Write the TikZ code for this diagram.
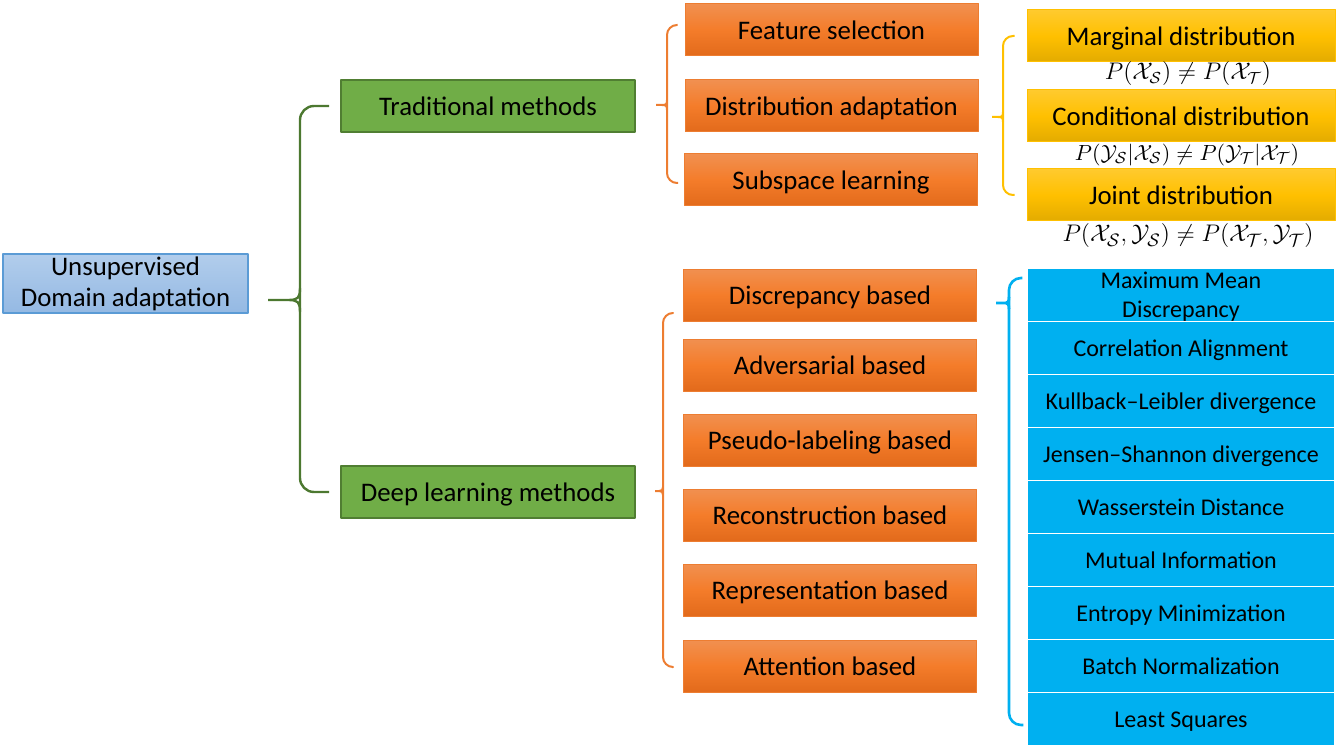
\documentclass[tikz,border=0pt]{standalone}
\usepackage[no-math]{fontspec}
\setmainfont{Carlito}
\usetikzlibrary{calc}
\definecolor{rootedge}{HTML}{5B9BD5}
\definecolor{roottop}{HTML}{B2CDEC}
\definecolor{rootbot}{HTML}{94B9E3}
\definecolor{gfill}{HTML}{70AD47}
\definecolor{gedge}{HTML}{507E32}
\definecolor{oedge}{HTML}{ED7D31}
\definecolor{otop}{HTML}{F19050}
\definecolor{omid}{HTML}{F47C2A}
\definecolor{obot}{HTML}{E26A1B}
\definecolor{ytop}{HTML}{FFCA2E}
\definecolor{ymid}{HTML}{FFC000}
\definecolor{ybot}{HTML}{E3AB00}
\definecolor{bfill}{HTML}{00B0F0}
\begin{document}
\begin{tikzpicture}[x=0.5pt,y=-0.5pt,line join=round,
	txt/.style={font=\fontsize{13.4}{15.5}\selectfont,text=black,inner sep=0pt,align=center},
	oneline/.style={text height=11.3pt,text depth=2pt},
	rootbox/.style={txt,draw=rootedge,line width=0.6pt,top color=roottop,bottom color=rootbot,minimum width=122.5pt,minimum height=29.5pt},
	greenbox/.style={txt,oneline,draw=gedge,line width=1pt,fill=gfill,minimum width=147pt,minimum height=26pt},
	orangebox/.style={txt,oneline,draw=oedge,line width=0.5pt,top color=otop,bottom color=obot,middle color=omid,minimum width=146.5pt,minimum height=26pt},
	yellowbox/.style={txt,oneline,draw=ymid,line width=0.5pt,top color=ytop,bottom color=ybot,middle color=ymid,minimum width=154pt,minimum height=26pt},
	bluebase/.style={txt,font=\fontsize{12}{14.5}\selectfont,draw=white,line width=0.6pt,fill=bfill,minimum width=154pt,minimum height=26.5pt},
	bluebox/.style={bluebase,text height=10.2pt,text depth=1.8pt},
	formula/.style={inner sep=0pt,font=\fontsize{12}{14}\selectfont},
	gbrace/.style={draw=gedge!95!black,line width=1.2pt},
	obrace/.style={draw=oedge,line width=1pt},
	ybrace/.style={draw=ymid,line width=1pt},
	bbrace/.style={draw=bfill,line width=1.3pt}]
	\useasboundingbox (0,0) rectangle (1340,749);
	% root and first level
	\node[rootbox] (root) at (125.5,283.5) {Unsupervised\\Domain adaptation};
	\node[greenbox] (trad) at (488,106) {Traditional methods};
	\node[greenbox] (deep) at (488,492) {Deep learning methods};
	% traditional methods
	\node[orangebox] (feat) at (831.5,30) {Feature selection};
	\node[orangebox] (dist) at (831.5,106) {Distribution adaptation};
	\node[orangebox] (subs) at (831,180) {Subspace learning};
	\node[yellowbox] (marg) at (1181,36) {Marginal distribution};
	\node[yellowbox] (cond) at (1181,116) {Conditional distribution};
	\node[yellowbox] (joint) at (1181,195) {Joint distribution};
	\node[formula] (fmarg) at (1188,74) {$P(\mathcal{X}_\mathcal{S})\neq P(\mathcal{X}_\mathcal{T})$};
	\node[formula,font=\fontsize{11.4}{14}\selectfont] (fcond) at (1187,155) {$P(\mathcal{Y}_\mathcal{S}|\mathcal{X}_\mathcal{S})\neq P(\mathcal{Y}_\mathcal{T}|\mathcal{X}_\mathcal{T})$};
	\node[formula,font=\fontsize{13}{15}\selectfont] (fjoint) at (1188,236) {$P(\mathcal{X}_\mathcal{S},\mathcal{Y}_\mathcal{S})\neq P(\mathcal{X}_\mathcal{T},\mathcal{Y}_\mathcal{T})$};
	% deep learning methods
	\foreach \y/\t/\n in {295/Discrepancy based/disc,365/Adversarial based/adv,440/Pseudo-labeling based/pseudo,515/Reconstruction based/recon,590/Representation based/repr,666/Attention based/att}{
		\node[orangebox] (\n) at (830,\y) {\t};
	}
	\node[bluebase,text depth=-1.2pt] (m1) at (1181,295) {Maximum Mean\\Discrepancy};
	\foreach \t [count=\i from 2] in {Correlation Alignment,Kullback–Leibler divergence,Jensen–Shannon divergence,Wasserstein Distance,Mutual Information,Entropy Minimization,Batch Normalization,Least Squares}{
		\node[bluebox] (m\i) at (1181,{242+53*\i}) {\t};
	}
	% braces
	\coordinate (gv) at (300,300);
	\coordinate (gtip) at (268,300);
	\draw[gbrace,rounded corners=7pt] ([xshift=-5.5pt]trad.west) -- (trad.west -| gv) -- (deep.west -| gv) -- ([xshift=-5.5pt]deep.west);
	\draw[gbrace] (gtip) -- ($(gv)+(-12,0)$) .. controls ($(gv)+(-2,0)$) and ($(gv)+(0,-2)$) .. ($(gv)+(0,-12)$)
	($(gv)+(-12,0)$) .. controls ($(gv)+(-2,0)$) and ($(gv)+(0,2)$) .. ($(gv)+(0,12)$);
	\coordinate (o1v) at (667,105);
	\coordinate (o1tip) at (656,105);
	\coordinate (o1a) at ($(feat.west)+(-7,-5)$);
	\coordinate (o1b) at ($(subs.west)+(-6,3)$);
	\draw[obrace,rounded corners=5pt] (o1a) -- (o1a -| o1v) -- (o1b -| o1v) -- (o1b);
	\draw[obrace] (o1tip) -- ($(o1v)+(-5,0)$) .. controls ($(o1v)+(-1,0)$) and ($(o1v)+(0,-1)$) .. ($(o1v)+(0,-5)$)
	($(o1v)+(-5,0)$) .. controls ($(o1v)+(-1,0)$) and ($(o1v)+(0,1)$) .. ($(o1v)+(0,5)$);
	\coordinate (yv) at (1003,117);
	\coordinate (ytip) at (992,117);
	\draw[ybrace,rounded corners=5pt] ([xshift=-6pt]marg.west) -- (marg.west -| yv) -- (joint.west -| yv) -- ([xshift=-6pt]joint.west);
	\draw[ybrace] (ytip) -- ($(yv)+(-5,0)$) .. controls ($(yv)+(-1,0)$) and ($(yv)+(0,-1)$) .. ($(yv)+(0,-5)$)
	($(yv)+(-5,0)$) .. controls ($(yv)+(-1,0)$) and ($(yv)+(0,1)$) .. ($(yv)+(0,5)$);
	\coordinate (o2v) at (663,491);
	\coordinate (o2tip) at (655,491);
	\coordinate (o2a) at ($(disc.west)+(-11,18)$);
	\coordinate (o2b) at ($(att.west)+(-11,1)$);
	\draw[obrace,rounded corners=5pt] (o2a) -- (o2a -| o2v) -- (o2b -| o2v) -- (o2b);
	\draw[obrace] (o2tip) -- ($(o2v)+(-4,0)$) .. controls ($(o2v)+(-1,0)$) and ($(o2v)+(0,-1)$) .. ($(o2v)+(0,-4)$)
	($(o2v)+(-4,0)$) .. controls ($(o2v)+(-1,0)$) and ($(o2v)+(0,1)$) .. ($(o2v)+(0,4)$);
	\coordinate (bv) at (1009,303);
	\coordinate (btip) at (996,303);
	\coordinate (ba) at ($(m1.west)+(-4,-17)$);
	\coordinate (bb) at ($(m9.west)+(-3,6)$);
	\draw[bbrace,rounded corners=6pt] (ba) -- (ba -| bv) -- (bb -| bv) -- (bb);
	\draw[bbrace] (btip) -- ($(bv)+(-6,0)$) .. controls ($(bv)+(-1,0)$) and ($(bv)+(0,-1)$) .. ($(bv)+(0,-6)$)
	($(bv)+(-6,0)$) .. controls ($(bv)+(-1,0)$) and ($(bv)+(0,1)$) .. ($(bv)+(0,6)$);
\end{tikzpicture}
\end{document}
